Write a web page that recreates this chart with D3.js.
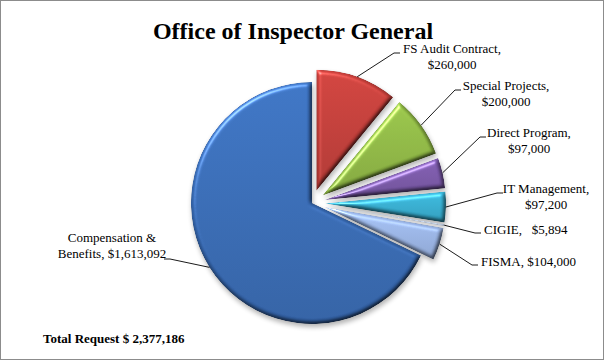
<!DOCTYPE html>
<html><head><meta charset="utf-8">
<script src="https://cdn.jsdelivr.net/npm/d3@7"></script>
<style>body{margin:0;background:#fff}svg{display:block}text{font-family:"Liberation Serif","Times New Roman",serif;white-space:pre}</style>
</head><body>
<svg id="c" width="604" height="360"></svg>
<script>
// ---- data ----
const categories = ["FS Audit Contract", "Special Projects", "Direct Program", "IT Management", "CIGIE", "FISMA", "Compensation & Benefits"];
const values = [260000, 200000, 97000, 97200, 5894, 104000, 1613092];
const labelLines = [
  ["FS Audit Contract,", "$260,000"],
  ["Special Projects,", "$200,000"],
  ["Direct Program,", "$97,000"],
  ["IT Management,", "$97,200"],
  ["CIGIE,   $5,894"],
  ["FISMA, $104,000"],
  ["Compensation &", "Benefits, $1,613,092"]
];
const title = "Office of Inspector General";
const footer = "Total Request $ 2,377,186";

// ---- layout / style ----
const W = 604, H = 360;
const cx = 312, cy = 203, R = 121, explode = 13;
const colors = ["#be3c38", "#8cb443", "#7655a3", "#35aacb", "#c9d8f0", "#98b2e2", "#3769b2"];
const exploded = [true, true, true, true, true, true, false];
const labelLayout = [
  {ex: 394, ey: 53, tx: 452, ty: 53, side: "r"},
  {ex: 455, ey: 90, tx: 506, ty: 90, side: "r"},
  {ex: 480, ey: 137, tx: 529, ty: 137, side: "r"},
  {ex: 497, ey: 193, tx: 546, ty: 193, side: "r"},
  {ex: 475, ey: 233, tx: 484, ty: 234, side: "rl"},
  {ex: 472, ey: 265, tx: 481, ty: 266, side: "rl"},
  {ex: 170, ey: 259, tx: 112, ty: 242, side: "l"}
];

const svg = d3.select("#c");
svg.append("rect").attr("x", 0.5).attr("y", 0.5).attr("width", W - 1).attr("height", H - 1)
  .attr("fill", "#fff").attr("stroke", "#8c8c8c").attr("stroke-width", 1);

const defs = svg.append("defs");
const f = defs.append("filter").attr("id", "bevel").attr("color-interpolation-filters", "sRGB")
  .attr("x", "-10%").attr("y", "-10%").attr("width", "120%").attr("height", "120%");
f.append("feGaussianBlur").attr("in", "SourceAlpha").attr("stdDeviation", 2).attr("result", "blur");
const sp = f.append("feSpecularLighting").attr("in", "blur").attr("surfaceScale", 3).attr("specularConstant", 0.7)
  .attr("specularExponent", 30).attr("lighting-color", "#ffffff").attr("result", "spec");
sp.append("feDistantLight").attr("azimuth", 235).attr("elevation", 40);
f.append("feComposite").attr("in", "spec").attr("in2", "SourceAlpha").attr("operator", "in").attr("result", "specIn");
const dl = f.append("feDiffuseLighting").attr("in", "blur").attr("surfaceScale", 3).attr("diffuseConstant", 1)
  .attr("lighting-color", "#ffffff").attr("result", "diff");
dl.append("feDistantLight").attr("azimuth", 235).attr("elevation", 65);
f.append("feComposite").attr("in", "SourceGraphic").attr("in2", "diff").attr("operator", "arithmetic")
  .attr("k1", 1.1).attr("k2", 0).attr("k3", 0).attr("k4", 0).attr("result", "lit");
f.append("feComposite").attr("in", "lit").attr("in2", "SourceAlpha").attr("operator", "in").attr("result", "litIn");
f.append("feComposite").attr("in", "litIn").attr("in2", "specIn").attr("operator", "arithmetic")
  .attr("k1", 0).attr("k2", 1).attr("k3", 0.6).attr("k4", 0);

const sh = defs.append("filter").attr("id", "shadow").attr("x", "-20%").attr("y", "-20%").attr("width", "140%").attr("height", "140%");
sh.append("feGaussianBlur").attr("in", "SourceAlpha").attr("stdDeviation", 2.5).attr("result", "b");
sh.append("feOffset").attr("in", "b").attr("dx", 1).attr("dy", 3).attr("result", "o");
sh.append("feComponentTransfer").attr("in", "o").append("feFuncA").attr("type", "linear").attr("slope", 0.3);

colors.forEach((c, i) => {
  const lg = defs.append("linearGradient").attr("id", "grad" + i).attr("x1", 0).attr("y1", 0).attr("x2", 0).attr("y2", 1);
  lg.append("stop").attr("offset", "0%").attr("stop-color", d3.color(c).brighter(0.25));
  lg.append("stop").attr("offset", "100%").attr("stop-color", d3.color(c).darker(0.25));
});

const pie = d3.pie().sort(null).value(d => d)(values);
const arc = d3.arc().innerRadius(0).outerRadius(R);

function offset(d, i) {
  if (!exploded[i]) return [0, 0];
  const a = (d.startAngle + d.endAngle) / 2;
  return [explode * Math.sin(a), -explode * Math.cos(a)];
}

const g = svg.append("g").attr("transform", `translate(${cx},${cy})`);
g.selectAll("path.sh").data(pie).join("path").attr("class", "sh")
  .attr("transform", (d, i) => { const o = offset(d, i); return `translate(${o[0]},${o[1]})`; })
  .attr("d", arc).attr("fill", "#000").attr("filter", "url(#shadow)");
g.selectAll("path.sl").data(pie).join("path").attr("class", "sl")
  .attr("transform", (d, i) => { const o = offset(d, i); return `translate(${o[0]},${o[1]})`; })
  .attr("d", arc).attr("fill", (d, i) => `url(#grad${i})`).attr("filter", "url(#bevel)");

pie.forEach((d, i) => {
  const o = offset(d, i);
  const a = (d.startAngle + d.endAngle) / 2;
  const px = cx + o[0] + R * Math.sin(a), py = cy + o[1] - R * Math.cos(a);
  const L = labelLayout[i];
  const hx = L.side === "l" ? L.ex - 6 : L.ex + 6;
  svg.append("polyline").attr("points", `${px},${py} ${L.ex},${L.ey} ${hx},${L.ey}`)
    .attr("fill", "none").attr("stroke", "#000").attr("stroke-width", 0.9);
  const t = svg.append("text").attr("font-size", 13).attr("fill", "#000")
    .attr("text-anchor", L.side === "rl" ? "start" : "middle");
  labelLines[i].forEach((line, k) => {
    t.append("tspan").attr("x", L.tx).attr("y", L.ty + k * 15.5).text(line);
  });
});

svg.append("text").attr("x", 293).attr("y", 39).attr("text-anchor", "middle")
  .attr("font-size", 24).attr("font-weight", "bold").text(title);
svg.append("text").attr("x", 43).attr("y", 343).attr("font-size", 13).attr("font-weight", "bold").text(footer);
</script>
</body></html>
